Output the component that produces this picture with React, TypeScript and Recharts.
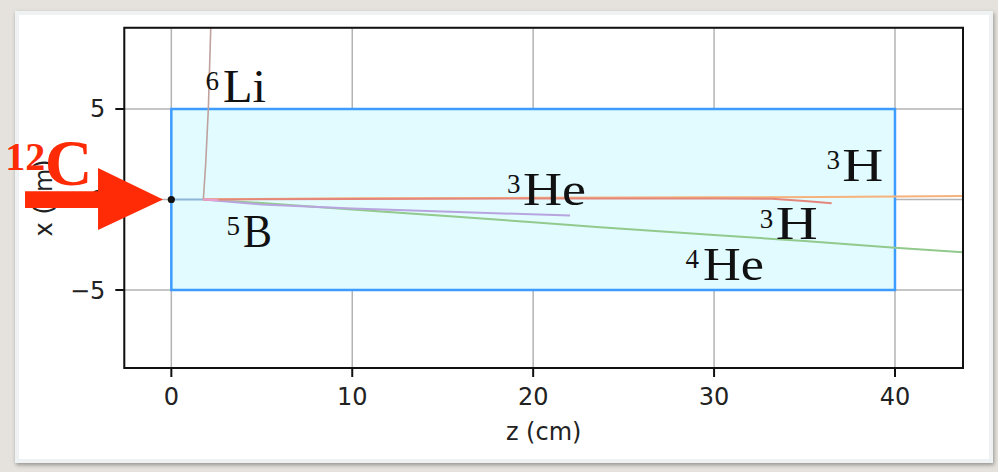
import React from "react";
import {
  LineChart,
  Line,
  XAxis,
  YAxis,
  CartesianGrid,
  ReferenceArea,
  ReferenceDot,
} from "recharts";

// Axis setup (cm)
const zDomain: [number, number] = [-2.6, 43.76];
const xDomain: [number, number] = [-9.31, 9.49];
const zTicks = [0, 10, 20, 30, 40];
const xTicks = [-5, 0, 5];

// Target volume outline (cm)
const targetZ: [number, number] = [0, 40];
const targetX: [number, number] = [-5, 5];

// Beam entry point
const entryPoint = { z: 0, x: 0 };

// Particle tracks, (z, x) in cm
const beamTrack = [
  { z: 0, x: 0 },
  { z: 1.77, x: 0 },
];
const lithium6Track = [
  { z: 1.77, x: 0 },
  { z: 1.9, x: 2 },
  { z: 2.045, x: 5 },
  { z: 2.12, x: 7.5 },
  { z: 2.18, x: 9.49 },
];
const boron5Track = [
  { z: 1.77, x: 0 },
  { z: 2.6, x: -0.04 },
];
const helium3Track = [
  { z: 1.77, x: 0 },
  { z: 5, x: -0.28 },
  { z: 10, x: -0.5 },
  { z: 15, x: -0.66 },
  { z: 22.04, x: -0.89 },
];
const tritonTrackA = [
  { z: 1.77, x: 0 },
  { z: 10, x: 0.07 },
  { z: 20, x: 0.09 },
  { z: 30, x: 0.12 },
  { z: 36, x: 0.14 },
  { z: 40, x: 0.16 },
  { z: 43.76, x: 0.19 },
];
const tritonTrackB = [
  { z: 1.77, x: 0 },
  { z: 10, x: 0.03 },
  { z: 20, x: 0.05 },
  { z: 30, x: 0.06 },
  { z: 33.2, x: 0.04 },
  { z: 35, x: -0.08 },
  { z: 36.5, x: -0.21 },
];
const helium4Track = [
  { z: 1.77, x: 0 },
  { z: 5, x: -0.2 },
  { z: 10, x: -0.56 },
  { z: 15, x: -0.9 },
  { z: 20, x: -1.26 },
  { z: 23.7, x: -1.54 },
  { z: 30, x: -1.96 },
  { z: 35, x: -2.3 },
  { z: 40, x: -2.66 },
  { z: 43.76, x: -2.92 },
];

const tracks = [
  { key: "beam", data: beamTrack, color: "#8db6d6", width: 2 },
  { key: "li6", data: lithium6Track, color: "#bfa19d", width: 1.6 },
  { key: "he4", data: helium4Track, color: "#92c98c", width: 2 },
  { key: "he3", data: helium3Track, color: "#b8a4de", width: 2 },
  { key: "h3a", data: tritonTrackA, color: "#f6b27c", width: 2 },
  { key: "h3b", data: tritonTrackB, color: "#e3877c", width: 2 },
  { key: "b5", data: boron5Track, color: "#eaa0d4", width: 2 },
];

// Fragment names: anchor (z, x) in cm at the start of the superscript
const fragmentLabels = [
  { z: 1.885, x: 5.403, mass: "6", name: "Li", nameDx: 17.6, nameLen: 43 },
  { z: 3.046, x: -2.608, mass: "5", name: "B", nameDx: 16.6, nameLen: 29 },
  { z: 18.557, x: -0.304, mass: "3", name: "He", nameDx: 16, nameLen: 63 },
  { z: 36.213, x: 1.039, mass: "3", name: "H", nameDx: 15.9, nameLen: 41 },
  { z: 32.526, x: -2.199, mass: "3", name: "H", nameDx: 16, nameLen: 42 },
  { z: 28.419, x: -4.448, mass: "4", name: "He", nameDx: 17.6, nameLen: 61 },
];

const AXIS_FONT = "'DejaVu Sans', Verdana, sans-serif";
const SERIF = "'Liberation Serif', 'Times New Roman', serif";
const ARROW_RED = "#ff2b06";

const fmtTick = (v: number) => (v < 0 ? `\u2212${Math.abs(v)}` : `${v}`);

function FragmentLabel(props: any) {
  const { cx, cy, mass, name, nameDx, nameLen } = props;
  return (
    <g>
      <text x={cx} y={cy - 11.5} fontFamily={SERIF} fontSize={27} fill="#111">
        {mass}
      </text>
      <text
        x={cx + nameDx}
        y={cy}
        fontFamily={SERIF}
        fontSize={46}
        fill="#111"
        textLength={nameLen}
        lengthAdjust="spacingAndGlyphs"
      >
        {name}
      </text>
    </g>
  );
}

function BeamArrow(props: any) {
  const { cx, cy } = props;
  const pts = [
    [-146.3, -8.3],
    [-73.3, -8.3],
    [-73.3, -31.5],
    [-8.3, 0],
    [-73.3, 30.5],
    [-73.3, 8.5],
    [-146.3, 8.5],
  ]
    .map(([dx, dy]) => `${cx + dx},${cy + dy}`)
    .join(" ");
  return (
    <g>
      <polygon points={pts} fill={ARROW_RED} />
      <text
        x={cx - 166}
        y={cy - 29.5}
        fontFamily={SERIF}
        fontWeight="bold"
        fontSize={40}
        fill={ARROW_RED}
      >
        12
      </text>
      <text
        x={cx - 126.5}
        y={cy - 14.5}
        fontFamily={SERIF}
        fontWeight="bold"
        fontSize={66}
        fill={ARROW_RED}
      >
        C
      </text>
    </g>
  );
}

function VertexDot(props: any) {
  const { cx, cy } = props;
  return <circle cx={cx} cy={cy} r={3.6} fill="#111" />;
}

const zTitle = (p: any) => {
  const vb = p.viewBox || {};
  return (
    <text
      x={vb.x + vb.width / 2}
      y={440}
      textAnchor="middle"
      fontFamily={AXIS_FONT}
      fontSize={24}
      fill="#222"
    >
      z (cm)
    </text>
  );
};

const xTitle = (p: any) => {
  const vb = p.viewBox || {};
  const cy = vb.y + vb.height / 2;
  const cx = 45;
  return (
    <text
      x={cx}
      y={cy}
      dy="0.31em"
      transform={`rotate(-90, ${cx}, ${cy})`}
      textAnchor="middle"
      fontFamily={AXIS_FONT}
      fontSize={24}
      fill="#222"
    >
      x (cm)
    </text>
  );
};

export default function App() {
  return (
    <div
      style={{
        position: "absolute",
        left: 0,
        top: 0,
        width: 998,
        height: 472,
        background: "#e5e2dd",
        overflow: "hidden",
      }}
    >
      <div
        style={{
          position: "absolute",
          left: 15,
          top: 11,
          width: 978,
          height: 452,
          background: "#ffffff",
          boxSizing: "border-box",
          border: "4px solid #eef2f2",
          boxShadow: "1px 2px 4px rgba(0,0,0,0.35)",
        }}
      />
      <div style={{ position: "absolute", left: 0, top: 0 }}>
        <LineChart
          width={998}
          height={472}
          margin={{ top: 27.7, right: 35, bottom: 44, left: 0 }}
        >
          <CartesianGrid stroke="#b3b3b3" strokeWidth={1.5} />
          <XAxis
            type="number"
            dataKey="z"
            domain={zDomain}
            ticks={zTicks}
            allowDataOverflow
            height={60}
            axisLine={false}
            tickSize={9}
            tickMargin={11}
            tickLine={{ stroke: "#111", strokeWidth: 2 }}
            tick={{ fontFamily: AXIS_FONT, fontSize: 24, fill: "#222" }}
            tickFormatter={fmtTick}
            label={zTitle}
          />
          <YAxis
            type="number"
            dataKey="x"
            domain={xDomain}
            ticks={xTicks}
            allowDataOverflow
            width={124.3}
            axisLine={false}
            tickSize={9}
            tickMargin={10}
            tickLine={{ stroke: "#111", strokeWidth: 2 }}
            tick={{ fontFamily: AXIS_FONT, fontSize: 24, fill: "#222" }}
            tickFormatter={fmtTick}
            label={xTitle}
          />
          <ReferenceArea
            x1={targetZ[0]}
            x2={targetZ[1]}
            y1={targetX[0]}
            y2={targetX[1]}
            fill="#e1fbff"
            fillOpacity={1}
            stroke="#3d9cff"
            strokeWidth={2.5}
            zIndex={50}
          />
          {tracks.map((t) => (
            <Line
              key={t.key}
              data={t.data}
              dataKey="x"
              type="linear"
              stroke={t.color}
              strokeWidth={t.width}
              dot={false}
              activeDot={false}
              isAnimationActive={false}
            />
          ))}
          <ReferenceArea
            x1={zDomain[0]}
            x2={zDomain[1]}
            y1={xDomain[0]}
            y2={xDomain[1]}
            fill="none"
            stroke="#111"
            strokeWidth={2}
            zIndex={1000}
          />
          <ReferenceDot
            x={entryPoint.z}
            y={entryPoint.x}
            r={3.6}
            shape={(p: any) => <VertexDot {...p} />}
            zIndex={1500}
          />
          {fragmentLabels.map((l, i) => (
            <ReferenceDot
              key={`lab-${i}`}
              x={l.z}
              y={l.x}
              r={0}
              shape={(p: any) => <FragmentLabel cx={p.cx} cy={p.cy} {...l} />}
              zIndex={2500}
            />
          ))}
          <ReferenceDot
            x={entryPoint.z}
            y={entryPoint.x}
            r={0}
            ifOverflow="visible"
            shape={(p: any) => <BeamArrow cx={p.cx} cy={p.cy} />}
            zIndex={2600}
          />
        </LineChart>
      </div>
    </div>
  );
}
